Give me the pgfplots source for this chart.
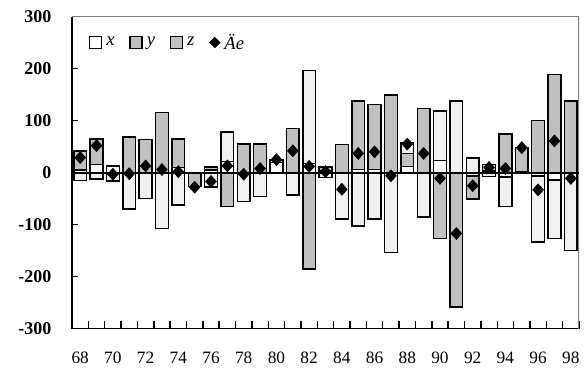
\documentclass[border=0pt]{standalone}
\usepackage{fontspec}
\setmainfont{Liberation Serif}
\usepackage{pgfplots}
\usepackage{pgfplotstable}
\pgfplotsset{compat=1.18}
\definecolor{ygray}{HTML}{C0C0C0}
\definecolor{zlight}{HTML}{F0F0F0}
\definecolor{bordergray}{HTML}{808080}

\pgfplotstableread{
yr x y z e
68 5 37 -15 29
69 16 49 -12 52
70 13 0 -16 -3
71 0 69 -70 -2
72 0 64 -50 13
73 0 116 -107 6
74 10 55 -62 2
75 0 -27 0 -28
76 5 6 -28 -17
77 21 -65 57 13
78 0 55 -55 -3
79 0 55 -46 8
80 20 0 4 25
81 0 85 -43 42
82 18 -185 178 12
83 4 7 -9 2
84 0 54 -89 -32
85 6 132 -103 37
86 6 125 -89 40
87 0 149 -154 -6
88 12 25 21 55
89 0 123 -85 37
90 23 -127 96 -11
91 0 -258 138 -117
92 -6 -45 28 -25
93 3 13 -7 10
94 -8 74 -57 8
95 2 46 0 48
96 -6 100 -127 -33
97 -14 189 -113 61
98 0 138 -150 -11
}\data

\pgfplotsset{
  base/.style={scale only axis, width=380.25pt, height=234pt,
    xmin=67.5, xmax=98.5, ymin=-300, ymax=300},
  bars/.style={ybar stacked, bar width=0.78,
    every axis plot/.append style={draw=black, line width=1.1pt}},
}

\begin{document}
\begin{tikzpicture}
\path[use as bounding box] (-54pt,-34pt) rectangle (384pt,246.5pt);
% positive parts + axis decorations
\begin{axis}[base, bars,
  axis x line*=bottom, axis y line*=left,
  axis line style={line width=1.2pt, black},
  tick align=inside,
  xtick={68,70,...,98},
  xticklabels={68,70,72,74,76,78,80,82,84,86,88,90,92,94,96,98},
  minor xtick={67.5,68.5,...,98.5},
  major x tick style={draw=none},
  minor tick length=6pt,
  major tick length=4.3pt,
  tick style={line width=1.1pt, black},
  ytick={-300,-200,-100,0,100,200,300},
  yticklabels={-300,-200,-100,0,100,200,300},
  xticklabel style={font=\fontsize{13}{15}\selectfont, yshift=-14pt},
  yticklabel style={font=\bfseries\fontsize{13.5}{15}\selectfont, xshift=-12pt},
]
\addplot[fill=white] table[x=yr, y expr={max(\thisrow{x},0)}]{\data};
\addplot[fill=ygray] table[x=yr, y expr={max(\thisrow{y},0)}]{\data};
\addplot[fill=zlight] table[x=yr, y expr={max(\thisrow{z},0)}]{\data};
\draw[bordergray, line width=0.9pt] (rel axis cs:0,1) -- (rel axis cs:1,1) -- (rel axis cs:1,0);
\end{axis}
% negative parts
\begin{axis}[base, bars, hide axis]
\addplot[fill=white] table[x=yr, y expr={min(\thisrow{x},0)}]{\data};
\addplot[fill=ygray] table[x=yr, y expr={min(\thisrow{y},0)}]{\data};
\addplot[fill=zlight] table[x=yr, y expr={min(\thisrow{z},0)}]{\data};
\end{axis}
% zero line, diamonds, legend
\begin{axis}[base, hide axis,
  legend style={at={(0.025,0.917)}, anchor=west, draw=none, fill=none,
    legend columns=-1, font=\itshape\fontsize{14}{15}\selectfont,
    /tikz/every odd column/.append style={column sep=0pt},
    /tikz/every even column/.append style={column sep=8pt},
    nodes={inner xsep=3pt}},
]
\addlegendimage{legend image code/.code={\draw[black, line width=1.1pt, fill=white] (0pt,-4.5pt) rectangle (9pt,4.5pt);}}
\addlegendimage{legend image code/.code={\draw[black, line width=1.1pt, fill=ygray] (0pt,-4.5pt) rectangle (9pt,4.5pt);}}
\addlegendimage{legend image code/.code={\draw[black, line width=1.1pt, fill=ygray] (0pt,-4.5pt) rectangle (9pt,4.5pt);}}
\addlegendimage{legend image code/.code={\fill[black] (1pt,0pt) -- (5pt,4pt) -- (9pt,0pt) -- (5pt,-4pt) -- cycle;}}
\legend{x,y,z,Äe}
\draw[black, line width=1.6pt] (axis cs:67.5,0) -- (axis cs:98.5,0);
\addplot[only marks, mark=diamond*, mark size=4.5pt, mark options={fill=black, draw=black, xscale=1.2}] table[x=yr, y=e]{\data};
\end{axis}
\end{tikzpicture}
\end{document}
